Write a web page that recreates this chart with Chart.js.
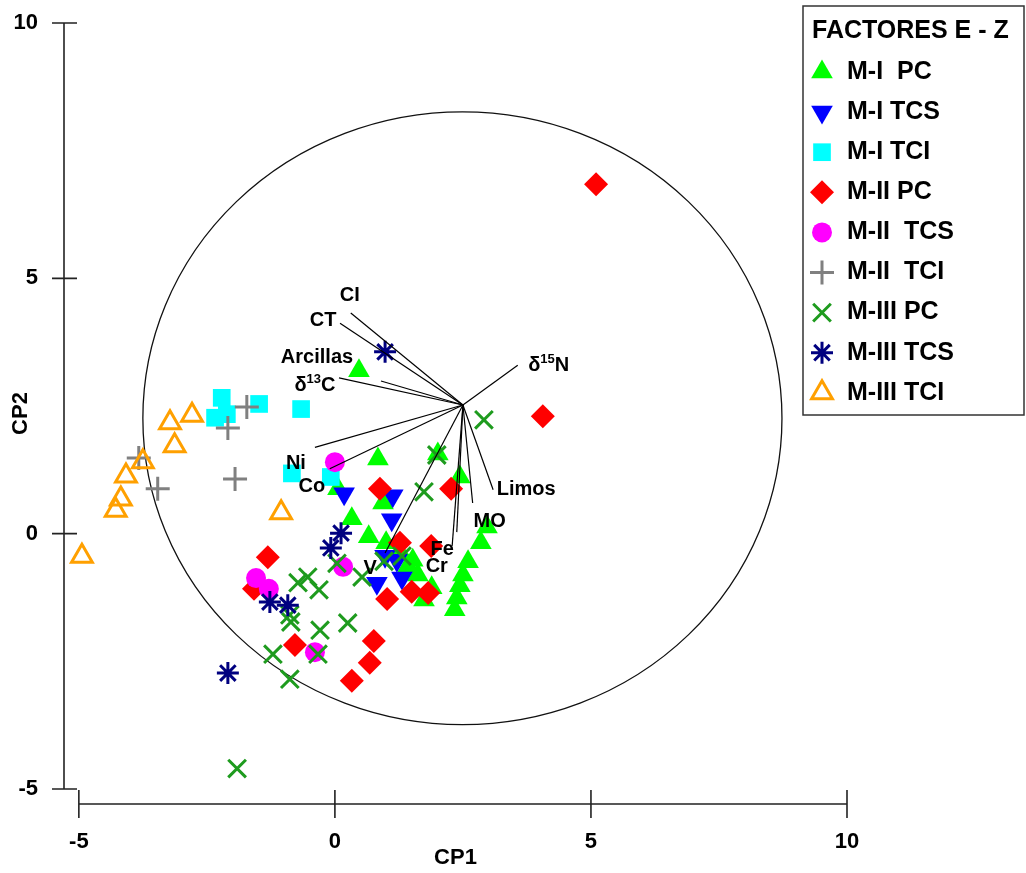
<!DOCTYPE html>
<html>
<head>
<meta charset="utf-8">
<script src="https://cdn.jsdelivr.net/npm/chart.js@4.4.1/dist/chart.umd.min.js"></script>
<style>
  html, body { margin: 0; padding: 0; background: #fff; }
</style>
</head>
<body>
<canvas id="myChart" width="1026" height="873"></canvas>
<script>
// groups, in legend order
const groupNames = ['M-I  PC', 'M-I TCS', 'M-I TCI', 'M-II PC', 'M-II  TCS', 'M-II  TCI', 'M-III PC', 'M-III TCS', 'M-III TCI'];

// sample scores (CP1, CP2)
const miPcX = [0.47, 0.84, 0.06, 2.01, 2.44, 0.33, 0.94, 0.66, 1.00, 1.27, 1.43, 1.62, 1.74, 2.97, 2.85, 2.60, 2.50, 2.44, 2.38, 2.34, 1.52, 1.89];
const miPcY = [3.19, 1.46, 0.88, 1.56, 1.11, 0.29, 0.60, -0.06, -0.18, -0.36, -0.63, -0.81, -1.30, 0.13, -0.18, -0.55, -0.81, -1.02, -1.26, -1.49, -0.52, -1.06];
const miTcsX = [0.18, 1.13, 1.11, 0.98, 1.21, 0.82, 1.31];
const miTcsY = [0.78, 0.74, 0.27, -0.44, -0.52, -0.97, -0.87];
const miTciX = [-2.21, -2.34, -2.11, -1.48, -0.66, -0.84, -0.08];
const miTciY = [2.66, 2.27, 2.34, 2.54, 2.44, 1.18, 1.11];
const miiPcX = [5.10, 4.06, 0.88, 2.27, -1.31, -1.58, 1.27, 1.88, 1.02, 1.50, 1.82, -0.78, 0.76, 0.68, 0.33];
const miiPcY = [6.84, 2.30, 0.88, 0.88, -0.46, -1.08, -0.18, -0.24, -1.28, -1.14, -1.16, -2.18, -2.10, -2.53, -2.88];
const miiTcsX = [0.00, 0.16, -1.54, -1.29, -0.39];
const miiTcsY = [1.40, -0.65, -0.87, -1.08, -2.32];
const miiTciX = [-1.72, -2.09, -1.95, -3.83, -3.46];
const miiTciY = [2.48, 2.07, 1.07, 1.48, 0.88];
const miiiPcX = [2.91, 1.99, 1.74, 1.31, 0.96, 0.04, 0.53, -0.72, -0.53, -0.31, -0.88, -0.86, -0.29, 0.25, -0.33, -1.21, -0.88, -1.91];
const miiiPcY = [2.23, 1.54, 0.82, -0.44, -0.54, -0.58, -0.85, -0.96, -0.85, -1.10, -1.59, -1.73, -1.89, -1.75, -2.36, -2.36, -2.85, -4.60];
const miiiTcsX = [0.98, 0.12, -0.08, -1.27, -0.92, -2.09];
const miiiTcsY = [3.56, 0.01, -0.28, -1.34, -1.40, -2.73];
const miiiTciX = [-2.79, -3.22, -3.13, -3.75, -4.08, -4.18, -4.28, -1.05, -4.94];
const miiiTciY = [2.32, 2.17, 1.72, 1.41, 1.13, 0.68, 0.46, 0.41, -0.44];

// variable loadings (drawn as vectors from a common origin)
const varNames = ['CI', 'CT', 'Arcillas', 'δ{13}C', 'δ{15}N', 'Ni', 'Co', 'V', 'Fe', 'Cr', 'MO', 'Limos'];
const varX = [0.31, 0.10, 0.90, 0.08, 3.57, -0.39, -0.10, 0.98, 2.29, 2.38, 2.69, 3.09];
const varY = [4.32, 4.12, 2.99, 3.05, 3.30, 1.69, 1.27, -0.38, -0.24, 0.03, 0.60, 0.86];
const vecOrigin = [2.50, 2.52];

// correlation circle
const circleCenter = [2.49, 2.26];
const circleRadius = [6.24, 6.00];

const tickValues = [-5, 0, 5, 10];

// label offsets in px from vector ends
const labelDx = [-1, -17, -64, -24, 31, -19, -18, -15, -10, -20, 17, 33];
const labelDy = [-18, -3, -23, 8, 0, 16, 18, 15, 4, 34, 18, 0];

const FONT = "'Liberation Sans', Arial, sans-serif";

const groupX = [miPcX, miTcsX, miTciX, miiPcX, miiTcsX, miiTciX, miiiPcX, miiiTcsX, miiiTciX];
const groupY = [miPcY, miTcsY, miTciY, miiPcY, miiTcsY, miiTciY, miiiPcY, miiiTcsY, miiiTciY];

const styles = [
  { pointStyle: 'triangle', rotation: 0, bg: '#00FF00', bd: '#00FF00', r: 12.5, bw: 0 },
  { pointStyle: 'triangle', rotation: 180, bg: '#0000FF', bd: '#0000FF', r: 12.5, bw: 0 },
  { pointStyle: 'rect', rotation: 0, bg: '#00FFFF', bd: '#00FFFF', r: 12.5, bw: 0 },
  { pointStyle: 'rectRot', rotation: 0, bg: '#FF0000', bd: '#FF0000', r: 12, bw: 0 },
  { pointStyle: 'circle', rotation: 0, bg: '#FF00FF', bd: '#FF00FF', r: 10, bw: 0 },
  { pointStyle: 'cross', rotation: 0, bg: '#808080', bd: '#808080', r: 12, bw: 3 },
  { pointStyle: 'crossRot', rotation: 0, bg: '#1E9B1E', bd: '#1E9B1E', r: 12.5, bw: 3 },
  { pointStyle: 'star', rotation: 0, bg: '#000080', bd: '#000080', r: 11, bw: 3 },
  { pointStyle: 'triangle', rotation: 0, bg: 'rgba(0,0,0,0)', bd: '#FFA000', r: 12, bw: 3 }
];

const datasets = groupNames.map((name, i) => ({
  label: name,
  data: groupX[i].map((v, k) => ({ x: v, y: groupY[i][k] })),
  pointStyle: styles[i].pointStyle,
  rotation: styles[i].rotation,
  backgroundColor: styles[i].bg,
  borderColor: styles[i].bd,
  borderWidth: styles[i].bw,
  pointRadius: styles[i].r,
  pointHoverRadius: styles[i].r,
  order: groupNames.length - 1 - i
}));

function drawRich(ctx, text, cx, cy, size) {
  const parts = [];
  text.replace(/([^{]+)|\{([^}]*)\}/g, (m, a, b) => {
    parts.push(a ? { t: a, sup: false } : { t: b, sup: true });
    return m;
  });
  let w = 0;
  parts.forEach(p => {
    ctx.font = 'bold ' + (p.sup ? Math.round(size * 0.65) : size) + 'px ' + FONT;
    p.w = ctx.measureText(p.t).width;
    w += p.w;
  });
  let x = cx - w / 2;
  parts.forEach(p => {
    ctx.font = 'bold ' + (p.sup ? Math.round(size * 0.65) : size) + 'px ' + FONT;
    ctx.fillText(p.t, x, p.sup ? cy - size * 0.3 : cy);
    x += p.w;
  });
}

const biplotPlugin = {
  id: 'biplot',
  beforeDatasetsDraw(chart) {
    const { ctx, chartArea, scales: { x, y } } = chart;
    ctx.save();
    // circle
    const cx = x.getPixelForValue(circleCenter[0]);
    const cy = y.getPixelForValue(circleCenter[1]);
    const rx = x.getPixelForValue(circleCenter[0] + circleRadius[0]) - cx;
    const ry = cy - y.getPixelForValue(circleCenter[1] + circleRadius[1]);
    ctx.beginPath();
    ctx.ellipse(cx, cy, rx, ry, 0, 0, Math.PI * 2);
    ctx.strokeStyle = '#111';
    ctx.lineWidth = 1.3;
    ctx.stroke();

    // axes, drawn detached like the original
    ctx.strokeStyle = '#222';
    ctx.lineWidth = 1.6;
    const ax = chartArea.left;
    const ay = chartArea.bottom;
    const y0 = y.getPixelForValue(tickValues[0]);
    const y1 = y.getPixelForValue(tickValues[tickValues.length - 1]);
    ctx.beginPath();
    ctx.moveTo(ax, y0);
    ctx.lineTo(ax, y1);
    tickValues.forEach(v => {
      const p = y.getPixelForValue(v);
      ctx.moveTo(ax - 12, p);
      ctx.lineTo(ax + 13, p);
    });
    const x0 = x.getPixelForValue(tickValues[0]);
    const x1 = x.getPixelForValue(tickValues[tickValues.length - 1]);
    ctx.moveTo(x0, ay);
    ctx.lineTo(x1, ay);
    tickValues.forEach(v => {
      const p = x.getPixelForValue(v);
      ctx.moveTo(p, ay - 14);
      ctx.lineTo(p, ay + 14);
    });
    ctx.stroke();
    ctx.restore();
  },
  afterDatasetsDraw(chart) {
    const { ctx, scales: { x, y } } = chart;
    const ox = x.getPixelForValue(vecOrigin[0]);
    const oy = y.getPixelForValue(vecOrigin[1]);
    ctx.save();
    ctx.strokeStyle = '#000';
    ctx.lineWidth = 1.2;
    varNames.forEach((n, i) => {
      const ex = x.getPixelForValue(varX[i]);
      const ey = y.getPixelForValue(varY[i]);
      ctx.beginPath();
      ctx.moveTo(ox, oy);
      ctx.lineTo(ex, ey);
      ctx.stroke();
    });
    ctx.fillStyle = '#000';
    ctx.textBaseline = 'middle';
    varNames.forEach((n, i) => {
      const ex = x.getPixelForValue(varX[i]);
      const ey = y.getPixelForValue(varY[i]);
      drawRich(ctx, n, ex + labelDx[i], ey + labelDy[i], 20);
    });
    ctx.restore();
  },
  afterDraw(chart) {
    const ctx = chart.ctx;
    ctx.save();
    ctx.strokeStyle = '#333';
    ctx.lineWidth = 1.5;
    ctx.strokeRect(803, 6, 221, 409);
    ctx.fillStyle = '#000';
    ctx.textBaseline = 'middle';
    ctx.font = 'bold 25px ' + FONT;
    ctx.fillText('FACTORES E - Z', 812, 31);
    groupNames.forEach((name, i) => {
      const ry = 72 + i * 40.1;
      const s = styles[i];
      ctx.fillStyle = s.bg;
      ctx.strokeStyle = s.bd;
      ctx.lineWidth = s.bw;
      Chart.helpers.drawPoint(ctx, { pointStyle: s.pointStyle, rotation: s.rotation, radius: s.r, borderWidth: s.bw }, 822, ry);
      ctx.fillStyle = '#000';
      ctx.font = 'bold 25px ' + FONT;
      ctx.fillText(name, 847, ry);
    });
    ctx.restore();
  }
};

const tickFont = { family: FONT, size: 22, weight: 'bold' };

new Chart('myChart', {
  type: 'scatter',
  data: { datasets: datasets },
  options: {
    responsive: false,
    animation: false,
    devicePixelRatio: 1,
    layout: { padding: { left: 0, right: 179, top: 23, bottom: 0 } },
    plugins: {
      legend: { display: false },
      tooltip: { enabled: false }
    },
    scales: {
      x: {
        type: 'linear',
        min: -5.29,
        max: 10,
        grid: { display: false },
        border: { display: false },
        afterBuildTicks: s => { s.ticks = tickValues.map(v => ({ value: v })); },
        afterFit: s => { s.height = 69; s.paddingLeft = 0; s.paddingRight = 0; },
        ticks: { font: tickFont, color: '#000', padding: 17, maxRotation: 0 },
        title: { display: true, text: 'CP1', font: tickFont, color: '#000', padding: { top: 0, bottom: 2 } }
      },
      y: {
        type: 'linear',
        min: -5.294,
        max: 10,
        grid: { display: false },
        border: { display: false },
        afterBuildTicks: s => { s.ticks = tickValues.map(v => ({ value: v })); },
        afterFit: s => { s.width = 64; s.paddingTop = 0; s.paddingBottom = 0; },
        ticks: { font: tickFont, color: '#000', padding: 18 },
        title: { display: true, text: 'CP2', font: tickFont, color: '#000', padding: { top: 8, bottom: 0 } }
      }
    }
  },
  plugins: [biplotPlugin]
});
</script>
</body>
</html>
